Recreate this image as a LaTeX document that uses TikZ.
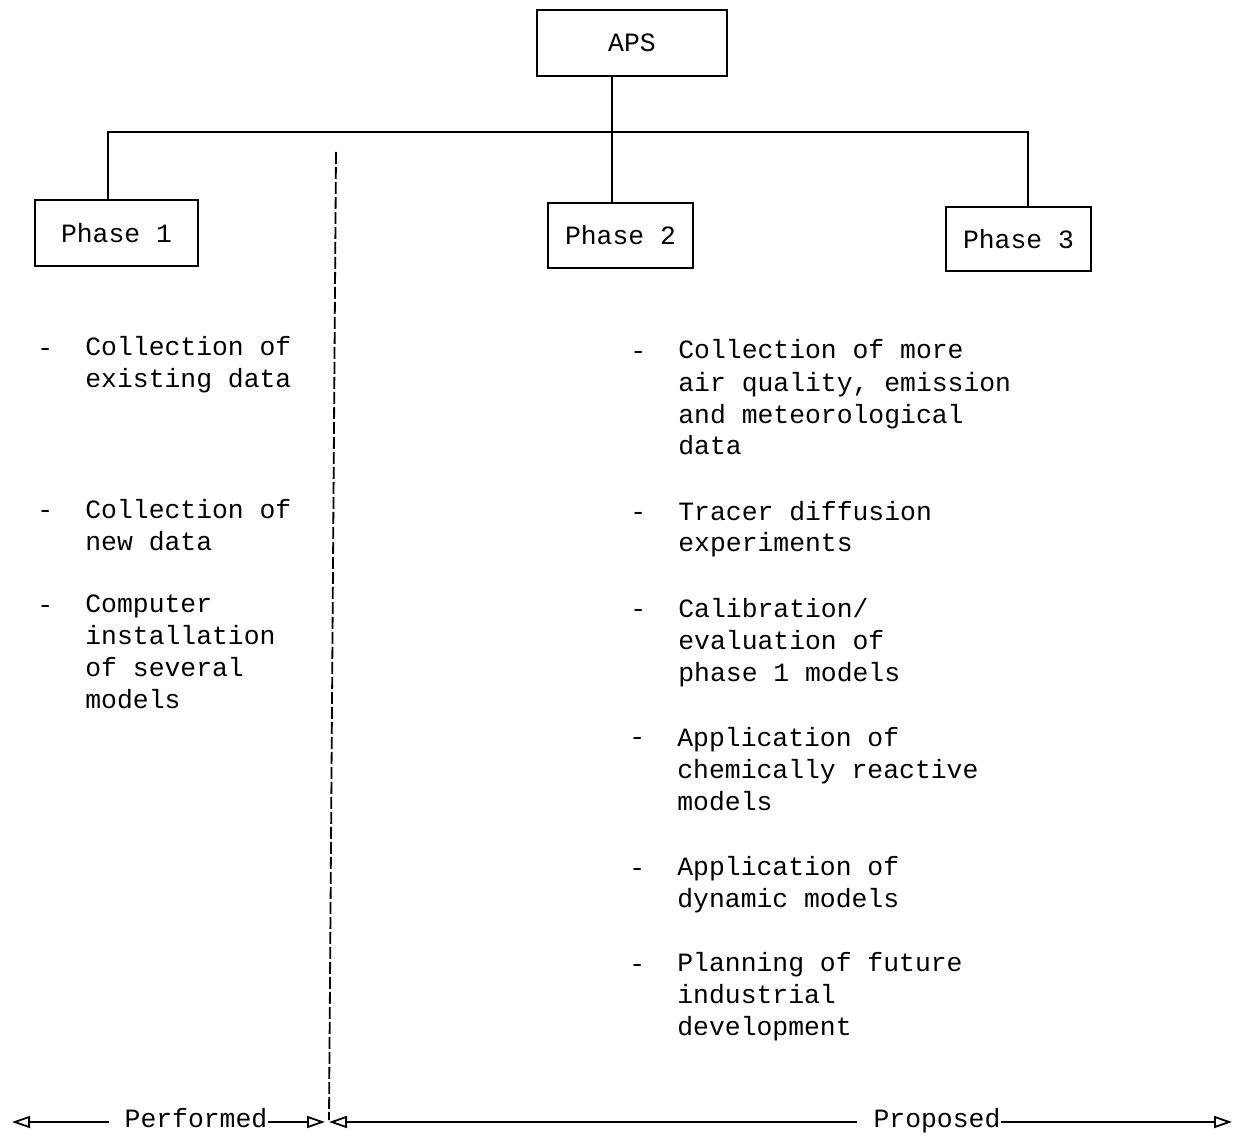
\documentclass[tikz,border=0pt]{standalone}
\usepackage{fontspec}
\setmonofont{Liberation Mono}
\usetikzlibrary{arrows.meta,positioning}
\tikzstyle{phase} = [draw, line width=0.9pt, minimum height=33pt, inner sep=0pt, font=\ttfamily\fontsize{13.2}{16}\selectfont]
% base of a multi-line task is the baseline of its last line
\tikzstyle{task} = [anchor=base west, align=left, inner sep=0pt, font=\ttfamily\fontsize{13.2}{16}\selectfont]
\tikzstyle{link} = [line width=0.9pt]
\tikzstyle{divide} = [line width=0.9pt, dash pattern=on 6pt off 1.5pt]
\tikzstyle{span} = [line width=0.9pt, -{Triangle[open,length=9pt,width=6pt]}]

\begin{document}
\begin{tikzpicture}[x=0.5pt,y=-0.5pt]
\useasboundingbox (0,0) rectangle (1238,1139);

% boxes
\node[phase, minimum width=95pt] (aps) at (632,43) {APS};
\node[phase, minimum width=81.5pt] (ph1) at (116.5,233) {Phase 1};
\node[phase, minimum width=72.5pt, minimum height=32.5pt] (ph2) at (620.5,235.5) {Phase 2};
\node[phase, minimum width=72.5pt, minimum height=32pt] (ph3) at (1018.5,239) {Phase 3};

% tree lines
\coordinate (bar) at (612,132);
\coordinate (b1) at (108,132);
\coordinate (b3) at (1028,132);
\draw[link] (aps.south -| bar) -- (ph2.north -| bar);
\draw[link] (ph1.north -| b1) -- (b1) -- (b3) -- (ph3.north -| b3);

% phase 1 tasks
\node[task] (d11) at (37,357) {-};
\node[task] (t11) at (85,387) {Collection of\\existing data};
\node[task] (d12) at (37,518) {-};
\node[task] (t12) at (85,550) {Collection of\\new data};
\node[task] (d13) at (37,613) {-};
\node[task] (t13) at (85,708) {Computer\\installation\\of several\\models};

% phase 2 tasks
\node[task] (d21) at (630,360) {-};
\node[task] (t21) at (678,455) {Collection of more\\air quality, emission\\and meteorological\\data};
\node[task] (d22) at (630,520) {-};
\node[task] (t22) at (678,552) {Tracer diffusion\\experiments};
\node[task] (d23) at (630,617) {-};
\node[task] (t23) at (678,681) {Calibration/\\evaluation of\\phase 1 models};
\node[task] (d24) at (629,745) {-};
\node[task] (t24) at (677,810) {Application of\\chemically reactive\\models};
\node[task] (d25) at (629,876) {-};
\node[task] (t25) at (677,907) {Application of\\dynamic models};
\node[task] (d26) at (629,972) {-};
\node[task] (t26) at (677,1035) {Planning of future\\industrial\\development};

% divider
\coordinate (divtop) at (336,152);
\coordinate (divbot) at (329,1120);
\draw[divide] (divtop) -- (divbot);

% performed / proposed
\node[task, anchor=base] (perf) at (196,1127) {Performed};
\node[task, anchor=base] (prop) at (937,1127) {Proposed};
\coordinate (lft) at (12,1122);
\coordinate (mida) at (325,1122);
\coordinate (midb) at (329,1122);
\coordinate (rgt) at (1232,1122);
\draw[span] ([xshift=-7.5pt]lft -| perf.west) -- (lft);
\draw[span] (mida -| perf.east) -- (mida);
\draw[span] ([xshift=-8pt]midb -| prop.west) -- (midb);
\draw[span] (rgt -| prop.east) -- (rgt);
\end{tikzpicture}
\end{document}
